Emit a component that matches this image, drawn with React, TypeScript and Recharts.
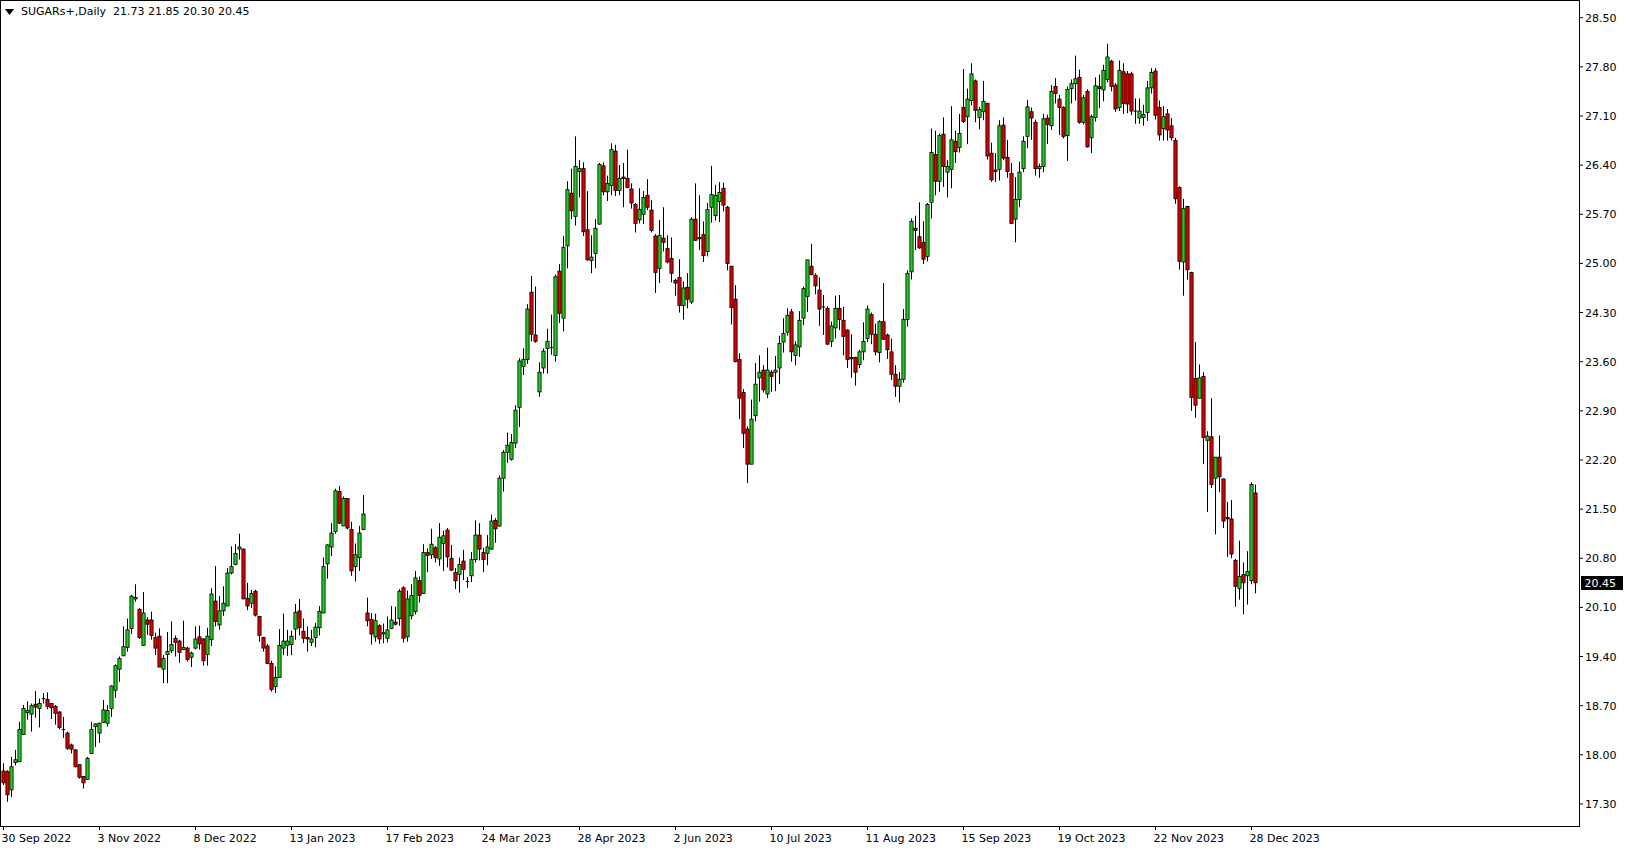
import React from "react";
import { ComposedChart, Bar, XAxis, YAxis, ReferenceLine } from "recharts";

// ---- data (daily OHLC, SUGARs+, 30 Sep 2022 .. 29 Dec 2023) ----
const opens = [
  17.77, 17.76, 17.50, 17.89, 17.90, 18.29, 18.60, 18.58, 18.72, 18.66,
  18.79, 18.79, 18.73, 18.69, 18.61, 18.36, 18.31, 18.14, 18.07, 17.86,
  17.69, 17.65, 18.02, 18.40, 18.31, 18.46, 18.45, 18.66, 18.92, 19.22,
  19.41, 19.53, 19.80, 20.22, 20.07, 19.56, 19.92, 19.92, 19.67, 19.69,
  19.22, 19.43, 19.48, 19.66, 19.62, 19.50, 19.52, 19.39, 19.52, 19.68,
  19.65, 19.43, 19.64, 20.19, 19.85, 20.05, 20.12, 20.59, 20.71, 20.93,
  20.93, 20.23, 20.16, 20.33, 19.97, 19.67, 19.55, 19.30, 18.97, 19.10,
  19.52, 19.56, 19.57, 19.79, 20.05, 19.76, 19.67, 19.60, 19.67, 19.81,
  20.02, 20.72, 20.96, 21.18, 21.75, 21.26, 21.65, 21.21, 20.68, 20.81,
  21.21, 20.02, 19.93, 19.68, 19.84, 19.72, 19.66, 19.80, 19.89, 19.94,
  20.38, 19.68, 19.98, 20.04, 20.48, 20.30, 20.88, 20.85, 20.95, 20.79,
  21.01, 21.20, 20.80, 20.60, 20.57, 20.76, 20.47, 20.55, 20.78, 21.13,
  20.88, 20.87, 20.93, 21.34, 21.26, 21.94, 22.31, 22.21, 22.44, 22.95,
  23.53, 23.63, 24.59, 23.98, 23.17, 23.51, 23.79, 23.80, 23.69, 24.89,
  24.22, 25.25, 26.00, 25.67, 26.31, 26.35, 25.48, 25.04, 25.14, 25.56,
  26.39, 26.02, 26.11, 26.60, 26.04, 26.23, 26.21, 26.06, 25.84, 25.62,
  25.70, 25.97, 25.76, 25.39, 24.93, 25.36, 25.21, 25.07, 24.76, 24.80,
  24.40, 24.66, 24.45, 25.63, 25.35, 25.41, 25.17, 25.80, 25.68, 25.88,
  26.07, 25.80, 24.96, 24.49, 23.63, 23.16, 22.64, 22.14, 22.83, 23.37,
  23.48, 23.14, 23.45, 23.45, 23.51, 23.88, 24.02, 24.31, 23.69, 23.81,
  24.22, 24.53, 24.96, 24.83, 24.62, 24.38, 24.36, 23.89, 24.08, 24.36,
  24.19, 24.05, 23.66, 23.66, 23.56, 23.74, 23.93, 24.27, 23.99, 23.73,
  24.17, 23.98, 23.74, 23.42, 23.25, 23.35, 24.20, 24.88, 25.50, 25.38,
  25.30, 25.10, 25.87, 26.55, 26.17, 26.84, 26.30, 26.34, 26.74, 26.65,
  27.22, 27.09, 27.32, 27.60, 27.08, 27.16, 27.28, 26.57, 26.33, 26.34,
  26.97, 26.51, 26.28, 25.63, 25.91, 26.35, 26.81, 27.16, 27.01, 26.35,
  26.38, 27.07, 26.96, 27.52, 27.34, 27.22, 26.82, 27.49, 27.56, 27.65,
  27.01, 27.45, 26.79, 27.08, 27.52, 27.47, 27.62, 27.88, 27.54, 27.22,
  27.73, 27.70, 27.70, 27.17, 27.07, 27.08, 27.15, 27.50, 27.74, 27.22,
  26.92, 27.13, 26.96, 26.75, 26.08, 25.02, 25.81, 24.87, 23.36, 23.08,
  23.39, 22.48, 22.53, 21.94, 22.24, 21.93, 21.38, 21.36, 20.77, 20.37,
  20.57, 20.55, 20.48, 21.73,
];

const highs = [
  17.88, 17.78, 17.97, 18.07, 18.47, 18.71, 18.76, 18.73, 18.91, 18.80,
  18.88, 18.89, 18.73, 18.71, 18.62, 18.54, 18.33, 18.16, 18.08, 17.86,
  17.70, 17.97, 18.47, 18.45, 18.46, 18.78, 18.71, 18.99, 19.29, 19.40,
  19.83, 19.94, 20.28, 20.43, 20.09, 20.32, 19.96, 20.04, 19.74, 19.80,
  19.42, 19.75, 19.90, 19.70, 19.64, 19.91, 19.54, 19.47, 19.83, 19.84,
  19.66, 19.81, 20.37, 20.69, 20.26, 20.40, 20.66, 20.97, 21.00, 21.15,
  20.94, 20.45, 20.35, 20.35, 19.98, 19.68, 19.58, 19.34, 19.26, 19.79,
  20.01, 19.78, 19.77, 20.15, 20.22, 19.94, 19.83, 19.78, 19.88, 20.12,
  20.81, 21.00, 21.30, 21.79, 21.83, 21.68, 21.65, 21.32, 21.01, 21.26,
  21.70, 20.24, 20.02, 20.01, 19.86, 19.87, 19.97, 20.12, 20.11, 20.36,
  20.40, 20.34, 20.43, 20.62, 20.54, 21.00, 20.94, 21.22, 20.97, 21.30,
  21.19, 21.23, 20.99, 20.66, 20.81, 20.92, 20.53, 20.89, 21.34, 21.30,
  20.95, 21.13, 21.42, 21.37, 21.98, 22.34, 22.59, 22.57, 22.98, 23.65,
  23.79, 24.42, 24.82, 24.67, 23.59, 23.79, 24.07, 24.27, 24.84, 24.99,
  25.39, 26.17, 26.35, 26.81, 26.47, 26.44, 26.03, 25.40, 25.63, 26.43,
  26.44, 26.25, 26.71, 26.69, 26.40, 26.43, 26.62, 26.14, 25.86, 26.07,
  26.03, 26.20, 25.90, 25.42, 25.62, 25.80, 25.40, 25.37, 24.78, 25.06,
  24.74, 24.86, 25.66, 26.14, 25.97, 25.60, 25.86, 26.39, 26.12, 26.16,
  26.15, 25.82, 24.96, 24.69, 23.72, 23.21, 22.68, 23.06, 23.58, 23.69,
  23.55, 23.80, 23.48, 23.68, 23.97, 24.22, 24.36, 24.35, 23.89, 24.32,
  24.67, 25.05, 25.28, 24.86, 24.80, 24.55, 24.39, 24.17, 24.54, 24.55,
  24.38, 24.06, 23.99, 23.67, 23.77, 24.16, 24.40, 24.30, 24.14, 24.19,
  24.72, 24.00, 23.93, 23.55, 23.45, 24.35, 24.90, 25.64, 25.68, 25.87,
  25.60, 25.86, 26.92, 26.89, 26.85, 27.08, 26.47, 27.24, 26.89, 27.13,
  27.77, 27.49, 27.85, 27.62, 27.23, 27.60, 27.29, 26.72, 26.57, 27.04,
  27.08, 26.76, 26.43, 26.23, 26.45, 26.81, 27.33, 27.22, 27.05, 26.42,
  27.13, 27.12, 27.54, 27.64, 27.40, 27.24, 27.52, 27.62, 27.96, 27.76,
  27.40, 27.48, 27.12, 27.65, 27.69, 27.83, 28.13, 27.90, 27.57, 27.89,
  27.85, 27.74, 27.73, 27.35, 27.35, 27.26, 27.60, 27.78, 27.78, 27.32,
  27.24, 27.20, 27.07, 26.79, 26.10, 25.92, 25.82, 24.88, 23.88, 23.56,
  23.45, 22.61, 23.08, 22.24, 22.55, 21.93, 21.60, 21.63, 20.79, 21.05,
  20.74, 20.90, 21.88, 21.85,
];

const lows = [
  17.57, 17.33, 17.40, 17.85, 17.90, 18.28, 18.50, 18.33, 18.53, 18.39,
  18.73, 18.65, 18.51, 18.43, 18.36, 18.24, 18.07, 18.02, 17.82, 17.66,
  17.52, 17.64, 18.02, 18.11, 18.17, 18.46, 18.40, 18.54, 18.81, 19.04,
  19.41, 19.47, 19.72, 20.18, 19.65, 19.55, 19.71, 19.64, 19.42, 19.25,
  19.02, 19.02, 19.45, 19.40, 19.31, 19.49, 19.33, 19.25, 19.50, 19.50,
  19.27, 19.27, 19.55, 19.83, 19.78, 19.98, 20.12, 20.57, 20.70, 20.78,
  20.22, 20.06, 20.09, 19.97, 19.61, 19.47, 19.29, 18.90, 18.88, 19.10,
  19.42, 19.41, 19.42, 19.64, 19.70, 19.59, 19.47, 19.55, 19.53, 19.70,
  20.02, 20.51, 20.83, 21.15, 21.29, 21.26, 21.21, 20.55, 20.47, 20.62,
  21.20, 19.83, 19.57, 19.61, 19.58, 19.59, 19.60, 19.79, 19.84, 19.84,
  19.60, 19.61, 19.93, 20.00, 20.17, 20.29, 20.60, 20.79, 20.74, 20.69,
  20.62, 20.67, 20.62, 20.36, 20.31, 20.49, 20.38, 20.46, 20.74, 20.77,
  20.60, 20.70, 20.92, 21.02, 21.25, 21.75, 22.16, 22.19, 22.37, 22.67,
  23.41, 23.57, 23.89, 23.87, 23.10, 23.43, 23.43, 23.70, 23.60, 24.15,
  24.03, 24.93, 25.63, 25.54, 25.94, 25.39, 25.04, 24.86, 24.93, 25.55,
  25.97, 25.89, 25.97, 25.96, 25.97, 25.80, 26.07, 25.78, 25.44, 25.57,
  25.56, 25.76, 25.44, 24.58, 24.72, 25.17, 25.00, 24.73, 24.54, 24.30,
  24.20, 24.36, 24.42, 25.32, 25.19, 25.02, 25.10, 25.58, 25.61, 25.59,
  25.74, 24.90, 24.13, 23.59, 22.78, 22.37, 21.87, 22.14, 22.75, 23.03,
  23.16, 23.08, 23.17, 23.18, 23.28, 23.73, 23.97, 23.60, 23.55, 23.67,
  24.12, 24.31, 24.83, 24.56, 24.11, 23.98, 23.84, 23.81, 23.93, 24.05,
  23.69, 23.51, 23.37, 23.26, 23.51, 23.62, 23.88, 23.85, 23.69, 23.59,
  23.91, 23.64, 23.34, 23.10, 23.02, 23.30, 24.10, 24.77, 25.19, 25.21,
  24.99, 25.03, 25.64, 25.97, 26.02, 26.09, 25.94, 26.07, 26.43, 26.58,
  27.00, 26.70, 27.25, 27.01, 26.91, 27.04, 26.48, 26.16, 26.16, 26.18,
  26.47, 26.22, 25.57, 25.30, 25.80, 26.30, 26.64, 26.76, 26.25, 26.22,
  26.30, 26.70, 26.90, 27.28, 26.83, 26.78, 26.46, 27.28, 27.32, 26.99,
  26.98, 26.65, 26.57, 27.02, 27.21, 27.31, 27.58, 27.45, 27.16, 27.17,
  27.13, 27.14, 27.11, 26.99, 26.99, 26.96, 27.03, 27.42, 27.05, 26.75,
  26.75, 26.75, 26.75, 25.85, 24.91, 24.54, 24.77, 22.90, 22.80, 23.08,
  22.14, 21.46, 21.80, 21.14, 21.74, 21.23, 20.82, 20.80, 20.11, 20.21,
  20.00, 20.14, 20.43, 20.30,
];

const closes = [
  17.60, 17.43, 17.83, 17.93, 18.36, 18.66, 18.63, 18.70, 18.68, 18.73,
  18.80, 18.69, 18.67, 18.59, 18.39, 18.35, 18.09, 18.08, 17.83, 17.68,
  17.60, 17.95, 18.36, 18.44, 18.45, 18.64, 18.63, 18.98, 19.27, 19.37,
  19.54, 19.78, 20.26, 20.24, 19.67, 20.02, 19.86, 19.70, 19.52, 19.25,
  19.37, 19.47, 19.57, 19.60, 19.46, 19.53, 19.36, 19.45, 19.65, 19.58,
  19.34, 19.69, 20.29, 19.90, 20.05, 20.16, 20.59, 20.68, 20.87, 20.96,
  20.22, 20.12, 20.30, 19.99, 19.70, 19.52, 19.30, 18.93, 19.10, 19.56,
  19.62, 19.62, 19.69, 20.03, 19.81, 19.66, 19.65, 19.65, 19.82, 20.04,
  20.68, 20.99, 21.16, 21.76, 21.30, 21.65, 21.23, 20.62, 20.85, 21.16,
  21.43, 19.91, 19.72, 19.91, 19.65, 19.74, 19.78, 19.92, 19.86, 20.33,
  19.66, 20.22, 20.27, 20.52, 20.27, 20.88, 20.84, 21.00, 20.81, 21.10,
  21.12, 20.82, 20.63, 20.48, 20.71, 20.64, 20.46, 20.78, 21.13, 20.93,
  20.78, 20.96, 21.33, 21.22, 21.94, 22.31, 22.41, 22.45, 22.91, 23.61,
  23.63, 24.35, 23.99, 23.89, 23.45, 23.75, 23.89, 23.79, 24.81, 24.29,
  25.23, 26.05, 25.75, 26.38, 26.35, 25.45, 25.05, 25.09, 25.50, 26.41,
  26.02, 26.14, 26.62, 26.04, 26.21, 26.21, 26.08, 25.86, 25.57, 25.77,
  25.94, 25.80, 25.47, 24.87, 25.40, 25.30, 25.02, 24.86, 24.72, 24.40,
  24.65, 24.49, 25.63, 25.33, 25.37, 25.11, 25.77, 25.98, 25.97, 26.01,
  25.83, 25.00, 24.37, 23.60, 23.08, 22.58, 22.14, 22.78, 23.28, 23.45,
  23.20, 23.48, 23.39, 23.48, 23.86, 24.00, 24.26, 23.74, 23.84, 24.19,
  24.64, 25.05, 24.84, 24.68, 24.35, 24.37, 23.85, 24.11, 24.36, 24.20,
  23.96, 23.63, 23.64, 23.45, 23.74, 23.89, 24.35, 23.99, 23.74, 24.17,
  23.92, 23.77, 23.42, 23.25, 23.35, 24.20, 24.86, 25.60, 25.47, 25.22,
  25.06, 25.84, 26.58, 26.17, 26.82, 26.38, 26.38, 26.76, 26.59, 26.85,
  27.02, 27.34, 27.70, 27.18, 27.19, 27.31, 26.53, 26.19, 26.31, 26.96,
  26.50, 26.31, 25.57, 25.91, 26.30, 26.74, 27.23, 27.07, 26.35, 26.38,
  27.06, 26.98, 27.45, 27.42, 27.22, 26.81, 27.48, 27.56, 27.63, 27.01,
  27.36, 26.66, 27.09, 27.53, 27.49, 27.75, 27.94, 27.52, 27.20, 27.75,
  27.28, 27.27, 27.17, 27.17, 27.17, 27.12, 27.50, 27.72, 27.11, 26.83,
  27.09, 26.90, 26.79, 25.92, 25.03, 25.78, 24.91, 23.09, 22.98, 23.37,
  22.52, 22.54, 21.85, 22.24, 21.96, 21.33, 21.36, 20.86, 20.40, 20.54,
  20.45, 20.61, 21.85, 20.45,
];

const dateTickIndex = [0, 24, 48, 72, 96, 120, 144, 168, 192, 216, 240, 264, 288, 312];
const dateTickLabels = [
  "30 Sep 2022", "3 Nov 2022", "8 Dec 2022", "13 Jan 2023", "17 Feb 2023",
  "24 Mar 2023", "28 Apr 2023", "2 Jun 2023", "10 Jul 2023", "11 Aug 2023",
  "15 Sep 2023", "19 Oct 2023", "22 Nov 2023", "28 Dec 2023",
];
const priceTicks = [17.3, 18.0, 18.7, 19.4, 20.1, 20.8, 21.5, 22.2, 22.9, 23.6, 24.3, 25.0, 25.7, 26.4, 27.1, 27.8, 28.5];
const instrument = "SUGARs+,Daily";
const lastOHLC = [21.73, 21.85, 20.3, 20.45];
const lastPrice = 20.45;

// ---- layout / style ----
const W = 1629;
const H = 850;
const AXIS_W = 50;
const AXIS_H = 24;
const X_DOMAIN: [number, number] = [-0.625, 393.875];
const Y_DOMAIN: [number, number] = [16.9858, 28.7379];
const BULL = "#22cc22";
const BEAR = "#dd0000";
const FONT = "'DejaVu Sans', Verdana, sans-serif";

const candles = opens.map((open, i) => ({
  i,
  open,
  high: highs[i],
  low: lows[i],
  close: closes[i],
  range: [lows[i], highs[i]],
}));

const Candle = (props: any) => {
  const { x, y, width, height, payload } = props;
  if (x == null || y == null || !payload) return null;
  const top = Math.min(y, y + height);
  const bot = Math.max(y, y + height);
  const { open, high, low, close } = payload;
  const span = high - low;
  const py = (p: number) => (span > 0 ? top + ((high - p) / span) * (bot - top) : top);
  const cx = Math.floor(x + width / 2) + 0.5;
  const yO = py(open);
  const yC = py(close);
  const bTop = Math.min(yO, yC);
  const bBot = Math.max(yO, yC);
  const bull = close >= open;
  return (
    <g>
      <line x1={cx} x2={cx} y1={top} y2={bot} stroke="#000" strokeWidth={1} />
      {bBot - bTop < 1 ? (
        <line x1={cx - 1.7} x2={cx + 1.7} y1={bTop} y2={bTop} stroke="#000" strokeWidth={1} />
      ) : (
        <rect x={cx - 1.6} y={bTop} width={3.2} height={bBot - bTop} fill={bull ? BULL : BEAR} stroke="#000" strokeWidth={0.8} />
      )}
    </g>
  );
};

const DateTick = (props: any) => {
  const { x, y, payload } = props;
  const k = dateTickIndex.indexOf(payload.value);
  if (k < 0) return null;
  return (
    <text x={x - 2} y={y + 9.5} textAnchor="start" fontSize={11} fontFamily={FONT} fill="#000">
      {dateTickLabels[k]}
    </text>
  );
};

const PriceTick = (props: any) => {
  const { x, y, payload } = props;
  return (
    <text x={x + 1} y={y + 4} textAnchor="start" fontSize={11} fontFamily={FONT} fill="#000">
      {Number(payload.value).toFixed(2)}
    </text>
  );
};

const LastPriceLabel = (props: any) => {
  const vb = props.viewBox || {};
  const bx = vb.x + vb.width + 2;
  const by = Math.round(vb.y);
  return (
    <g>
      <rect x={bx} y={by - 7} width={42} height={14} fill="#000" />
      <text x={bx + 3.5} y={by + 4} fontSize={11} fontFamily={FONT} fill="#fff">
        {lastPrice.toFixed(2)}
      </text>
    </g>
  );
};

export default function App() {
  return (
    <div style={{ position: "absolute", left: 0, top: 0, width: W, height: H, background: "#fff", overflow: "hidden" }}>
      <ComposedChart
        width={W}
        height={H}
        data={candles}
        margin={{ top: 1, right: 0, bottom: 0, left: 1 }}
      >
        <XAxis
          type="number"
          dataKey="i"
          domain={X_DOMAIN}
          allowDataOverflow
          ticks={dateTickIndex}
          interval={0}
          height={AXIS_H}
          axisLine={false}
          tickLine={{ stroke: "#000" }}
          tickSize={4}
          tickMargin={2}
          tick={<DateTick />}
        />
        <YAxis
          orientation="right"
          type="number"
          domain={Y_DOMAIN}
          allowDataOverflow
          ticks={priceTicks}
          interval={0}
          width={AXIS_W}
          axisLine={false}
          tickLine={{ stroke: "#000" }}
          tickSize={4}
          tickMargin={1}
          tick={<PriceTick />}
        />
        <Bar dataKey="range" barSize={3} shape={(p: any) => <Candle {...p} />} isAnimationActive={false} />
        <ReferenceLine y={lastPrice} stroke="none" ifOverflow="visible" label={<LastPriceLabel />} />
      </ComposedChart>
      <div
        style={{
          position: "absolute",
          left: 0,
          top: 0,
          width: W - AXIS_W + 1,
          height: H - AXIS_H + 1,
          border: "1px solid #000",
          boxSizing: "border-box",
          pointerEvents: "none",
        }}
      />
      <div
        style={{
          position: "absolute",
          left: 5,
          top: 5,
          fontFamily: FONT,
          fontSize: 11,
          color: "#000",
          whiteSpace: "pre",
          lineHeight: "14px",
          display: "flex",
          alignItems: "center",
        }}
      >
        <svg width={9} height={6} style={{ marginRight: 7 }}>
          <polygon points="0,0 9,0 4.5,6" fill="#000" />
        </svg>
        <span>{instrument + "  " + lastOHLC.map((v) => v.toFixed(2)).join(" ")}</span>
      </div>
    </div>
  );
}
